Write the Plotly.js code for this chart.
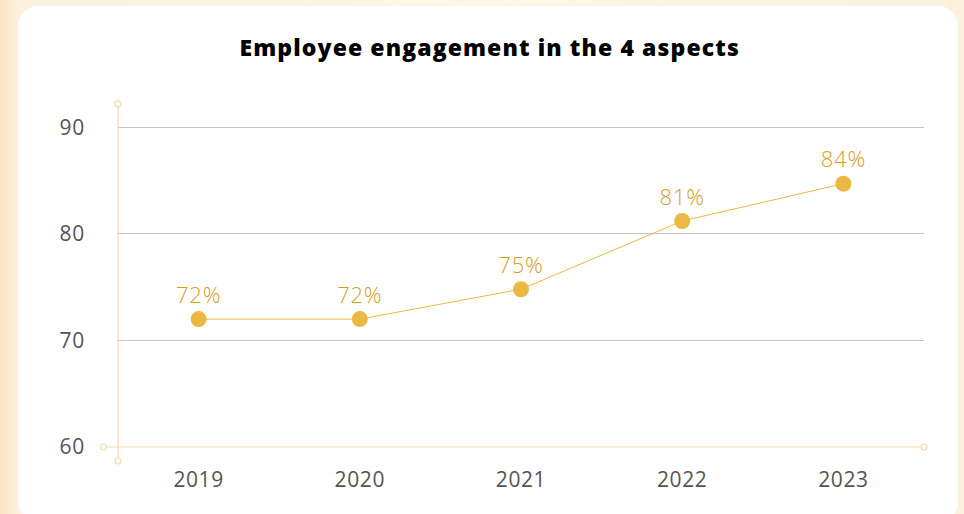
<!DOCTYPE html>
<html><head><meta charset="utf-8">
<script src="https://cdn.plot.ly/plotly-3.0.1.min.js"></script>
<style>
html,body{margin:0;padding:0;width:964px;height:514px;overflow:hidden;
background:linear-gradient(90deg,#f7e6c0 0px,#fcf1dc 18px,#fdf5e6 50%,#fcf1dc 100%);}
#card{position:absolute;left:18px;top:6px;width:940px;height:516px;background:#fff;border-radius:20px;}
#chart{position:absolute;left:0;top:0;width:964px;height:514px;}
#chart .gtitle{letter-spacing:1.1px;}
#chart .textpoint text{letter-spacing:0.8px;}
#chart .xtick text,#chart .ytick text{letter-spacing:0.6px;}
</style></head>
<body><div id="card"></div><div id="chart"></div>
<script>
const years = ['2019','2020','2021','2022','2023'];
const engagement = [72.0, 72.0, 74.8, 81.2, 84.7];
const labels = ['72%','72%','75%','81%','84%'];
const yTicks = [60,70,80,90];

const gold = '#ebb843';
const axisGold = '#f3dca8';
const font = '"Open Sans", "Noto Sans", sans-serif';

const trace = {
  x: years, y: engagement, text: labels,
  type: 'scatter', mode: 'lines+markers+text',
  line: {color: gold, width: 1},
  marker: {color: gold, size: 16},
  textposition: 'top center',
  textfont: {family: font, size: 22, weight: 300, color: '#d69c22'},
  cliponaxis: false, hoverinfo: 'skip'
};

const circ = (x, y) => ({type:'circle', xref:'x domain', yref:'y domain', xsizemode:'pixel', ysizemode:'pixel',
  xanchor:x, yanchor:y, x0:-3, x1:3, y0:-3, y1:3, line:{color:axisGold,width:1.2}, fillcolor:'#fff', layer:'above'});

const layout = {
  width: 964, height: 514,
  paper_bgcolor: 'rgba(0,0,0,0)', plot_bgcolor: 'rgba(0,0,0,0)',
  margin: {l:118, r:40, t:124, b:67},
  showlegend: false,
  title: {text: 'Employee engagement in the 4 aspects', x: 0.508, xanchor:'center', y: 0.907, yanchor:'middle',
    font: {family: font, size: 23, weight: 800, color: '#000'}},
  xaxis: {type:'category', range:[-0.5,4.5], showgrid:false, zeroline:false, showline:false,
    ticks:'outside', ticklen:14, tickcolor:'rgba(0,0,0,0)',
    tickfont:{family:font, size:21, color:'#555'}},
  yaxis: {range:[60,90.3], tickvals: yTicks, showgrid:true, gridcolor:'#c4c4c4', gridwidth:1,
    zeroline:false, showline:false, ticks:'outside', ticklen:28, tickcolor:'rgba(0,0,0,0)',
    tickfont:{family:font, size:21, color:'#555'}},
  shapes: [
    {type:'line', xref:'x domain', yref:'y domain', x0:-0.018, x1:1.0, y0:0, y1:0, line:{color:axisGold,width:1.2}, layer:'above'},
    {type:'line', xref:'x domain', yref:'y domain', x0:0, x1:0, y0:-0.0433, y1:1.062, line:{color:axisGold,width:1.2}, layer:'above'},
    circ(-0.018, 0), circ(1.0, 0), circ(0, -0.0433), circ(0, 1.062)
  ]
};
Plotly.newPlot('chart', [trace], layout, {displayModeBar:false, staticPlot:true});
</script></body></html>
